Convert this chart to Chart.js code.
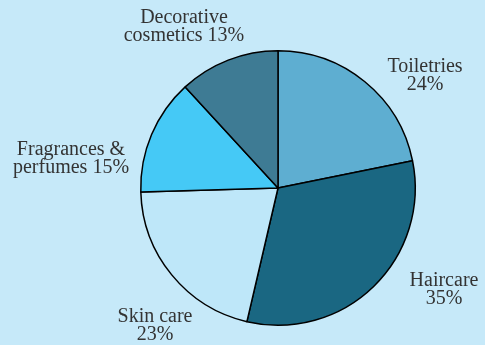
<!DOCTYPE html>
<html>
<head>
<meta charset="utf-8">
<script src="https://cdn.jsdelivr.net/npm/chart.js@4"></script>
<style>
  html, body { margin: 0; padding: 0; background: #c6e9f9; }
  #wrap { width: 485px; height: 345px; position: relative; }
</style>
</head>
<body>
<div id="wrap"><canvas id="myChart" width="485" height="345"></canvas></div>
<script>
// Market share by product segment
const segments = ["Toiletries", "Haircare", "Skin care", "Fragrances & perfumes", "Decorative cosmetics"];
const shares = [24, 35, 23, 15, 13];
const sliceColors = ["#5eaed1", "#1a6782", "#bee7f9", "#45c9f6", "#3e7b94"];

// label text lines and their anchor points (centre of the first line)
const labelLines = [
  ["Toiletries", "24%"],
  ["Haircare", "35%"],
  ["Skin care", "23%"],
  ["Fragrances &", "perfumes 15%"],
  ["Decorative", "cosmetics 13%"]
];
const labelSpots = [
  [425, 67], [444, 281], [155, 317], [71, 150], [184, 18]
];

const sliceLabels = {
  id: "sliceLabels",
  afterDraw(chart) {
    const c = chart.ctx;
    c.save();
    c.font = "20px 'Liberation Serif', 'Times New Roman', serif";
    c.fillStyle = "#333333";
    c.textAlign = "center";
    c.textBaseline = "middle";
    labelLines.forEach((lines, i) => {
      const [x, y] = labelSpots[i];
      lines.forEach((txt, j) => {
        // last line carries the share value
        if (j === lines.length - 1) {
          txt = txt.replace(/\d+%/, shares[i] + "%");
        }
        c.fillText(txt, x, y + j * 18);
      });
    });
    c.restore();
  }
};

const ctx = document.getElementById("myChart").getContext("2d");
new Chart(ctx, {
  type: "pie",
  data: {
    labels: segments,
    datasets: [{
      data: shares,
      backgroundColor: sliceColors,
      borderColor: "#000000",
      borderWidth: 1.5
    }]
  },
  options: {
    responsive: false,
    animation: false,
    layout: {
      padding: { left: 140, right: 69, top: 50, bottom: 19 }
    },
    plugins: {
      legend: { display: false },
      tooltip: { enabled: false }
    }
  },
  plugins: [sliceLabels]
});
</script>
</body>
</html>
